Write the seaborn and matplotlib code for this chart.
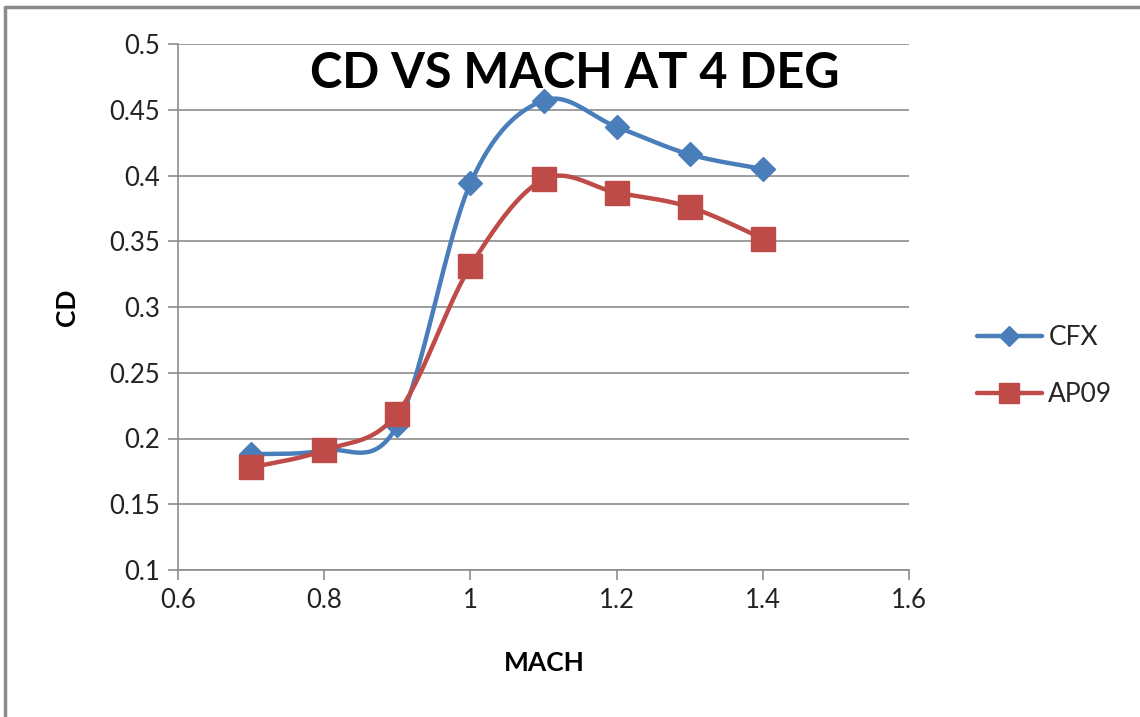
import numpy as np
import pandas as pd
import matplotlib
matplotlib.use("Agg")
import matplotlib.pyplot as plt
from matplotlib.lines import Line2D
import seaborn as sns

# ---- data ----
mach = [0.7, 0.8, 0.9, 1.0, 1.1, 1.2, 1.3, 1.4]
cd_cfx = [0.188, 0.191, 0.210, 0.394, 0.457, 0.437, 0.416, 0.405]
cd_ap09 = [0.178, 0.191, 0.219, 0.331, 0.397, 0.387, 0.376, 0.352]
series_names = ["CFX", "AP09"]
x_ticks = [0.6, 0.8, 1.0, 1.2, 1.4, 1.6]
x_tick_labels = ["0.6", "0.8", "1", "1.2", "1.4", "1.6"]
y_ticks = [0.1, 0.15, 0.2, 0.25, 0.3, 0.35, 0.4, 0.45, 0.5]
y_tick_labels = ["0.1", "0.15", "0.2", "0.25", "0.3", "0.35", "0.4", "0.45", "0.5"]
title = "CD VS MACH AT 4 DEG"
xlabel = "MACH"
ylabel = "CD"

BLUE = "#4A7EBB"
RED = "#BE4B48"
GRID = "#8C8C8C"
FONT = "Lato"


def smooth_curve(x, y, n=40):
    """Excel-like smoothed line: cubic Bezier through points (Catmull-Rom style)."""
    x = np.asarray(x, float)
    y = np.asarray(y, float)
    P = np.column_stack([x, y])
    out = []
    t = np.linspace(0, 1, n)
    for i in range(len(P) - 1):
        p0 = P[i - 1] if i > 0 else P[i]
        p1 = P[i]
        p2 = P[i + 1]
        p3 = P[i + 2] if i + 2 < len(P) else P[i + 1]
        c1 = p1 + (p2 - p0) / 6.0
        c2 = p2 - (p3 - p1) / 6.0
        seg = ((1 - t) ** 3)[:, None] * p1 + (3 * (1 - t) ** 2 * t)[:, None] * c1 \
            + (3 * (1 - t) * t ** 2)[:, None] * c2 + (t ** 3)[:, None] * p2
        out.append(seg if i == 0 else seg[1:])
    arr = np.vstack(out)
    return arr[:, 0], arr[:, 1]


sns.set_theme(style="white")
plt.rcParams["font.family"] = [FONT, "DejaVu Sans"]

fig = plt.figure(figsize=(11.4, 7.17), dpi=100)
ax = fig.add_axes([178 / 1140, 1 - 570 / 717, (909 - 178) / 1140, (570 - 44) / 717])

for ys, col, mk, ms in [(cd_cfx, BLUE, "D", 12), (cd_ap09, RED, "s", 17)]:
    sx, sy = smooth_curve(mach, ys)
    df = pd.DataFrame({"x": sx, "y": sy})
    sns.lineplot(data=df, x="x", y="y", sort=False, estimator=None, color=col,
                 linewidth=3.2, ax=ax, zorder=3)
    ax.plot(mach, ys, linestyle="none", marker=mk, markersize=ms, color=col,
            markeredgecolor=col, zorder=4)

ax.set_xlim(0.6, 1.6)
ax.set_ylim(0.1, 0.5)
ax.set_xticks(x_ticks)
ax.set_xticklabels(x_tick_labels)
ax.set_yticks(y_ticks)
ax.set_yticklabels(y_tick_labels)
ax.grid(axis="y", color=GRID, linewidth=1.2)
ax.grid(axis="x", visible=False)
for s in ["top", "right"]:
    ax.spines[s].set_visible(False)
for s in ["left", "bottom"]:
    ax.spines[s].set_color(GRID)
    ax.spines[s].set_linewidth(1.2)
ax.tick_params(axis="both", which="major", direction="out", length=7, width=1.2,
               color=GRID, labelsize=18.5, labelcolor="#222222", pad=6,
               left=True, bottom=True)
ax.set_xlabel("")
ax.set_ylabel("")

fig.text(544 / 1140, 1 - 663 / 717, xlabel, ha="center", va="center",
         fontsize=19, fontweight="bold", color="black")
fig.text(67 / 1140, 1 - 307 / 717, ylabel, ha="center", va="center",
         rotation=90, fontsize=19, fontweight="bold", color="black")
fig.text(575 / 1140, 1 - 73 / 717, title, ha="center", va="center",
         fontsize=35, fontweight="bold", color="black")

handles = [
    Line2D([], [], color=BLUE, linewidth=3.2, marker="D", markersize=10),
    Line2D([], [], color=RED, linewidth=3.2, marker="s", markersize=14),
]
fig.legend(handles, series_names, loc="center left",
           bbox_to_anchor=(977 / 1140, 1 - 366 / 717), frameon=False,
           fontsize=19, handlelength=2.45, handletextpad=0.25,
           labelspacing=1.2, borderpad=0, borderaxespad=0)

# outer chart border (left & top visible)
fig.add_artist(Line2D([5 / 1140, 5 / 1140], [0, 1 - 7 / 717], transform=fig.transFigure,
                      color="#8a8a8a", linewidth=2.5))
fig.add_artist(Line2D([5 / 1140, 1], [1 - 7 / 717, 1 - 7 / 717], transform=fig.transFigure,
                      color="#8a8a8a", linewidth=2.5))

fig.savefig("out.png", dpi=100)
